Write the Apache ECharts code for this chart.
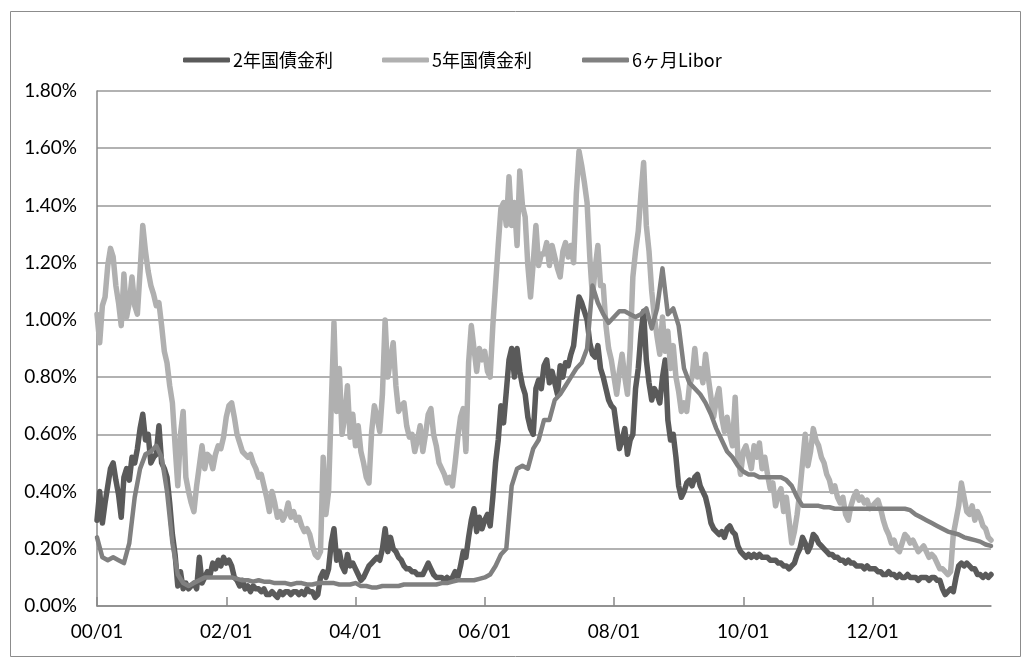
<!DOCTYPE html>
<html><head><meta charset="utf-8">
<script src="https://cdn.jsdelivr.net/npm/echarts@6/dist/echarts.min.js"></script>
<style>html,body{margin:0;padding:0;background:#fff}#c{width:1031px;height:667px}</style>
</head><body><div id="c"></div><script>
// Series names
const seriesNames = ['2年国債金利', '5年国債金利', '6ヶ月Libor'];
// x axis: months since 2000/01 ; tick positions and labels
const xTickMonths = [0, 24, 48, 72, 96, 120, 144];
const xTickLabels = ['00/01', '02/01', '04/01', '06/01', '08/01', '10/01', '12/01'];
const lastMonth = 166;
// 2-year JGB yield (%), semi-monthly from 2000/01
const jgb2y = [
0.30,0.40,0.29,0.36,0.42,0.48,0.50,0.44,0.39,0.31,0.45,0.48,0.44,0.52,0.50,0.55,0.62,0.67,0.58,0.60,0.50,0.52,0.53,0.63,
0.50,0.48,0.45,0.36,0.25,0.18,0.07,0.12,0.06,0.08,0.06,0.07,0.08,0.06,0.17,0.08,0.10,0.12,0.11,0.15,0.13,0.16,0.14,0.17,
0.15,0.16,0.14,0.10,0.09,0.07,0.09,0.06,0.07,0.05,0.07,0.06,0.06,0.05,0.06,0.04,0.04,0.05,0.04,0.03,0.05,0.04,0.05,0.05,
0.04,0.05,0.05,0.04,0.05,0.04,0.06,0.05,0.05,0.03,0.04,0.10,0.12,0.10,0.13,0.22,0.27,0.16,0.19,0.14,0.12,0.18,0.14,0.15,
0.13,0.11,0.09,0.10,0.12,0.14,0.15,0.16,0.17,0.16,0.20,0.27,0.19,0.24,0.20,0.19,0.17,0.16,0.14,0.13,0.13,0.12,0.12,0.11,
0.11,0.11,0.13,0.15,0.13,0.11,0.10,0.10,0.10,0.09,0.10,0.09,0.10,0.12,0.10,0.14,0.19,0.17,0.24,0.30,0.34,0.26,0.31,0.27,
0.30,0.32,0.28,0.38,0.50,0.58,0.70,0.64,0.75,0.86,0.90,0.80,0.90,0.82,0.77,0.74,0.66,0.62,0.60,0.76,0.79,0.76,0.84,0.86,
0.78,0.82,0.78,0.74,0.84,0.80,0.85,0.84,0.88,0.91,1.00,1.08,1.06,1.03,1.00,0.92,0.88,0.87,0.91,0.83,0.80,0.76,0.72,0.70,
0.69,0.62,0.55,0.58,0.62,0.53,0.58,0.60,0.76,0.83,0.95,1.03,0.86,0.78,0.72,0.76,0.74,0.71,0.80,0.86,0.65,0.58,0.60,0.52,
0.42,0.38,0.40,0.43,0.44,0.42,0.45,0.46,0.42,0.40,0.38,0.34,0.29,0.27,0.26,0.25,0.26,0.24,0.27,0.28,0.26,0.25,0.21,0.19,
0.18,0.17,0.18,0.17,0.18,0.17,0.18,0.17,0.17,0.17,0.16,0.16,0.16,0.15,0.15,0.14,0.14,0.13,0.14,0.15,0.18,0.20,0.24,0.22,
0.19,0.21,0.25,0.24,0.22,0.21,0.20,0.19,0.18,0.18,0.17,0.17,0.16,0.16,0.15,0.16,0.15,0.15,0.14,0.14,0.14,0.13,0.14,0.13,
0.13,0.13,0.12,0.12,0.11,0.11,0.12,0.11,0.11,0.10,0.11,0.10,0.10,0.11,0.10,0.10,0.10,0.09,0.10,0.10,0.10,0.09,0.10,0.10,
0.09,0.09,0.06,0.04,0.05,0.06,0.05,0.10,0.14,0.15,0.14,0.15,0.14,0.13,0.13,0.11,0.11,0.10,0.11,0.10,0.11
];
// 5-year JGB yield (%), semi-monthly from 2000/01
const jgb5y = [
1.02,0.92,1.05,1.08,1.19,1.25,1.22,1.12,1.06,0.98,1.16,1.01,1.06,1.15,1.05,1.02,1.17,1.33,1.24,1.17,1.12,1.09,1.05,1.06,
0.98,0.89,0.85,0.77,0.71,0.56,0.42,0.60,0.68,0.45,0.40,0.36,0.33,0.42,0.49,0.56,0.48,0.53,0.52,0.48,0.53,0.56,0.55,0.59,
0.66,0.70,0.71,0.66,0.60,0.57,0.54,0.53,0.52,0.53,0.50,0.48,0.45,0.46,0.42,0.38,0.33,0.40,0.36,0.31,0.33,0.30,0.32,0.36,
0.31,0.33,0.30,0.31,0.28,0.26,0.27,0.25,0.21,0.18,0.17,0.19,0.52,0.32,0.40,0.70,0.99,0.68,0.83,0.60,0.66,0.77,0.59,0.67,
0.56,0.63,0.54,0.50,0.45,0.43,0.61,0.70,0.66,0.61,0.74,1.00,0.80,0.86,0.92,0.77,0.68,0.70,0.71,0.63,0.59,0.60,0.54,0.58,
0.63,0.54,0.60,0.67,0.69,0.60,0.56,0.50,0.48,0.46,0.43,0.45,0.42,0.50,0.59,0.66,0.69,0.54,0.85,0.98,0.90,0.82,0.90,0.86,
0.89,0.82,0.80,0.98,1.12,1.26,1.39,1.41,1.33,1.50,1.33,1.41,1.26,1.52,1.40,1.36,1.19,1.08,1.20,1.33,1.19,1.23,1.23,1.27,
1.19,1.26,1.22,1.18,1.15,1.24,1.27,1.22,1.26,1.20,1.44,1.59,1.54,1.48,1.41,1.22,1.08,1.18,1.26,1.12,1.12,0.98,0.90,0.86,
0.80,0.74,0.82,0.88,0.80,0.74,0.90,1.15,1.24,1.31,1.44,1.55,1.33,1.24,1.10,1.01,0.94,0.88,1.01,0.89,0.96,0.83,0.91,0.80,
0.75,0.68,0.71,0.68,0.77,0.80,0.90,0.80,0.83,0.78,0.88,0.80,0.73,0.66,0.72,0.76,0.66,0.61,0.66,0.60,0.56,0.73,0.52,0.46,
0.54,0.56,0.52,0.48,0.56,0.52,0.57,0.48,0.52,0.46,0.41,0.43,0.35,0.39,0.41,0.33,0.38,0.30,0.22,0.26,0.32,0.40,0.50,0.60,
0.49,0.54,0.62,0.58,0.56,0.52,0.50,0.46,0.44,0.40,0.42,0.38,0.36,0.38,0.32,0.30,0.35,0.38,0.40,0.37,0.38,0.36,0.37,0.34,
0.35,0.36,0.37,0.34,0.30,0.27,0.25,0.22,0.23,0.20,0.19,0.22,0.25,0.24,0.22,0.23,0.21,0.19,0.20,0.21,0.19,0.17,0.18,0.17,
0.15,0.13,0.13,0.12,0.11,0.12,0.25,0.30,0.35,0.43,0.38,0.33,0.32,0.35,0.30,0.33,0.31,0.28,0.27,0.24,0.23
];
// 6-month yen Libor (%), monthly from 2000/01
const libor6m = [
0.24,0.17,0.16,0.17,0.16,0.15,0.22,0.38,0.48,0.53,0.54,0.56,
0.52,0.40,0.22,0.11,0.08,0.07,0.08,0.09,0.10,0.10,0.10,0.10,
0.10,0.10,0.095,0.09,0.09,0.085,0.09,0.085,0.085,0.08,0.08,0.08,
0.075,0.08,0.08,0.075,0.075,0.08,0.08,0.08,0.08,0.075,0.075,0.075,
0.08,0.07,0.07,0.065,0.065,0.07,0.07,0.07,0.07,0.075,0.075,0.075,
0.075,0.075,0.075,0.075,0.08,0.08,0.085,0.09,0.09,0.09,0.09,0.095,
0.10,0.11,0.14,0.18,0.20,0.42,0.48,0.49,0.48,0.55,0.58,0.65,
0.65,0.72,0.74,0.77,0.80,0.83,0.85,0.90,1.12,1.06,1.02,0.99,
1.01,1.03,1.03,1.02,1.01,1.02,1.04,0.97,1.04,1.18,1.02,1.04,
0.98,0.83,0.78,0.76,0.74,0.71,0.67,0.62,0.58,0.54,0.52,0.49,
0.47,0.46,0.46,0.45,0.45,0.45,0.45,0.45,0.44,0.42,0.38,0.35,
0.35,0.35,0.35,0.345,0.345,0.34,0.34,0.34,0.34,0.34,0.34,0.34,
0.34,0.34,0.34,0.34,0.34,0.34,0.34,0.335,0.32,0.31,0.30,0.29,
0.28,0.27,0.26,0.255,0.25,0.24,0.235,0.23,0.225,0.215,0.21
];
const seriesColors = ['#5a5a5a', '#b0b0b0', '#808080'];

const chart = echarts.init(document.getElementById('c'), null, {renderer: 'canvas'});
const latin = 'Lato, "Noto Sans CJK JP", sans-serif';
const cjk = '"Noto Sans CJK JP", Lato, sans-serif';
const legendLefts = [183, 382, 582];

const option = {
  animation: false,
  backgroundColor: '#fff',
  graphic: [{
    type: 'rect', silent: true, z: -10,
    shape: {x: 10.5, y: 11.5, width: 1010, height: 645},
    style: {fill: '#fff', stroke: '#8c8c8c', lineWidth: 1}
  }],
  legend: seriesNames.map((n, i) => ({
    data: [n], left: legendLefts[i], top: 51, orient: 'horizontal',
    icon: 'roundRect', itemWidth: 47, itemHeight: 5,
    textStyle: {fontFamily: cjk, fontSize: 18, color: '#000', padding: [0, 0, 0, -2]},
    selectedMode: false, padding: 0
  })),
  grid: {left: 97, right: 40, top: 91, bottom: 61, containLabel: false},
  xAxis: {
    type: 'value', min: 0, max: lastMonth, interval: 24,
    axisLine: {show: true, lineStyle: {color: '#888', width: 1.5}},
    axisTick: {show: true, inside: true, length: 9, customValues: xTickMonths, lineStyle: {color: '#888', width: 1.5}},
    axisLabel: {
      customValues: xTickMonths,
      formatter: v => { const k = xTickMonths.indexOf(v); return k >= 0 ? xTickLabels[k] : ''; },
      fontFamily: latin, fontSize: 19, color: '#000', margin: 16
    },
    splitLine: {show: false}
  },
  yAxis: {
    type: 'value', min: 0, max: 1.8, interval: 0.2,
    axisLine: {show: true, lineStyle: {color: '#888', width: 1.5}},
    axisTick: {show: false},
    axisLabel: {formatter: v => v.toFixed(2) + '%', fontFamily: latin, fontSize: 19, color: '#000', margin: 20},
    splitLine: {show: true, lineStyle: {color: '#999', width: 1.5}}
  },
  series: [
    {name: seriesNames[0], type: 'line', data: jgb2y.map((v, i) => [i / 2, v]), color: seriesColors[0],
     showSymbol: false, lineStyle: {width: 5.5, color: seriesColors[0], cap: 'round', join: 'round'}, z: 2},
    {name: seriesNames[1], type: 'line', data: jgb5y.map((v, i) => [i / 2, v]), color: seriesColors[1],
     showSymbol: false, lineStyle: {width: 5.5, color: seriesColors[1], cap: 'round', join: 'round'}, z: 3},
    {name: seriesNames[2], type: 'line', data: libor6m.map((v, i) => [i, v]), color: seriesColors[2],
     showSymbol: false, lineStyle: {width: 4.5, color: seriesColors[2], cap: 'round', join: 'round'}, z: 4}
  ]
};
chart.setOption(option);
</script></body></html>
